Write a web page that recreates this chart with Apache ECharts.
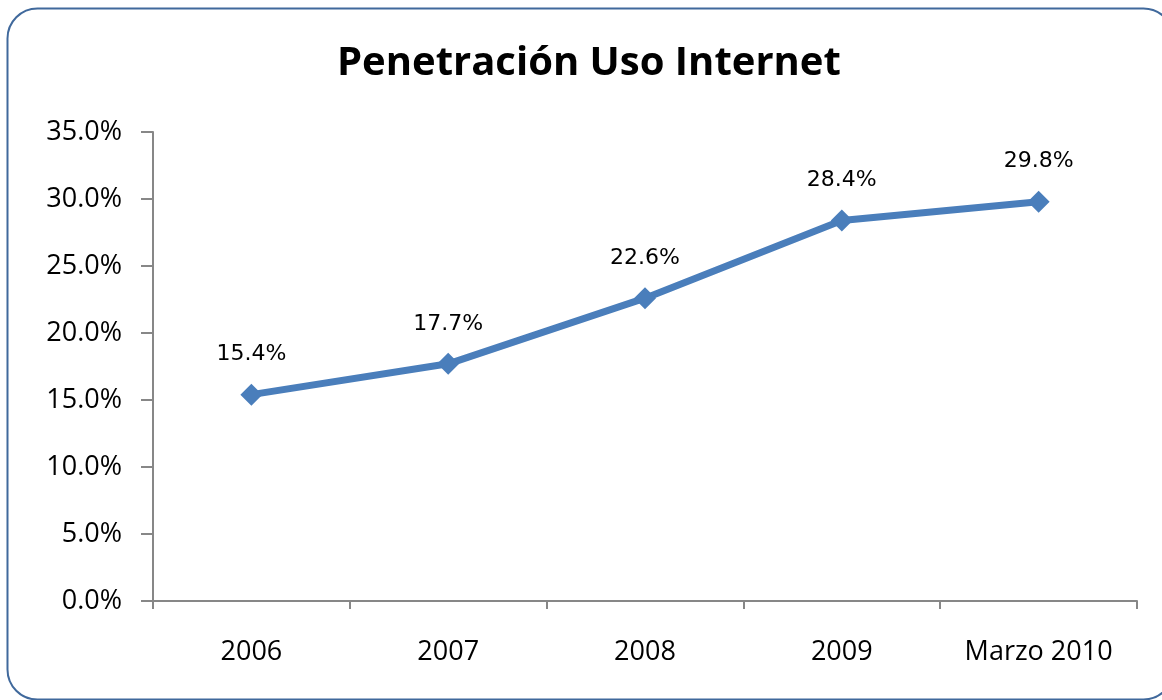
<!DOCTYPE html>
<html>
<head>
<meta charset="utf-8">
<script src="https://cdn.jsdelivr.net/npm/echarts@6/dist/echarts.min.js"></script>
<style>
html, body { margin: 0; padding: 0; background: #fff; }
#chart { width: 1162px; height: 700px; }
</style>
</head>
<body>
<div id="chart"></div>
<script>
// datos del gráfico
var categories = ['2006', '2007', '2008', '2009', 'Marzo 2010'];
var penetracion = [15.4, 17.7, 22.6, 28.4, 29.8];

var myChart = echarts.init(document.getElementById('chart'));
var option = {
    backgroundColor: '#ffffff',
    textStyle: { fontFamily: '"Open Sans", Lato, sans-serif' },
    graphic: [{
        type: 'rect',
        shape: { x: 7.5, y: 8.5, width: 1166, height: 691, r: 30 },
        style: { fill: 'none', stroke: '#40699c', lineWidth: 2 },
        silent: true
    }],
    title: {
        text: 'Penetración Uso Internet',
        left: 332,
        top: 39,
        textStyle: {
            fontFamily: '"Open Sans", Lato, sans-serif',
            fontSize: 40,
            fontWeight: 'bold',
            color: '#000'
        }
    },
    grid: {
        left: 153,
        right: 25,
        top: 132,
        bottom: 99,
        containLabel: false
    },
    xAxis: {
        type: 'category',
        data: categories,
        boundaryGap: true,
        axisLine: { lineStyle: { color: '#878787', width: 2 } },
        axisTick: { show: true, length: 8, lineStyle: { color: '#878787', width: 2 } },
        axisLabel: { fontSize: 27, color: '#000', margin: 38 },
        splitLine: { show: false }
    },
    yAxis: {
        type: 'value',
        min: 0,
        max: 35,
        interval: 5,
        axisLine: { show: true, lineStyle: { color: '#878787', width: 2 } },
        axisTick: { show: true, length: 12, inside: false, lineStyle: { color: '#878787', width: 2 } },
        axisLabel: {
            fontSize: 27,
            color: '#000',
            margin: 31,
            formatter: function (v) { return v.toFixed(1) + '%'; }
        },
        splitLine: { show: false }
    },
    series: [{
        name: 'Penetración',
        type: 'line',
        data: penetracion,
        symbol: 'diamond',
        symbolSize: 22,
        itemStyle: { color: '#4a7ebb' },
        lineStyle: { color: '#4a7ebb', width: 7 },
        label: {
            show: true,
            position: 'top',
            distance: 18,
            fontSize: 22,
            color: '#000',
            fontFamily: '"DejaVu Sans", sans-serif',
            formatter: function (p) { return p.value.toFixed(1) + '%'; }
        },
        animation: false
    }]
};
myChart.setOption(option);
</script>
</body>
</html>
